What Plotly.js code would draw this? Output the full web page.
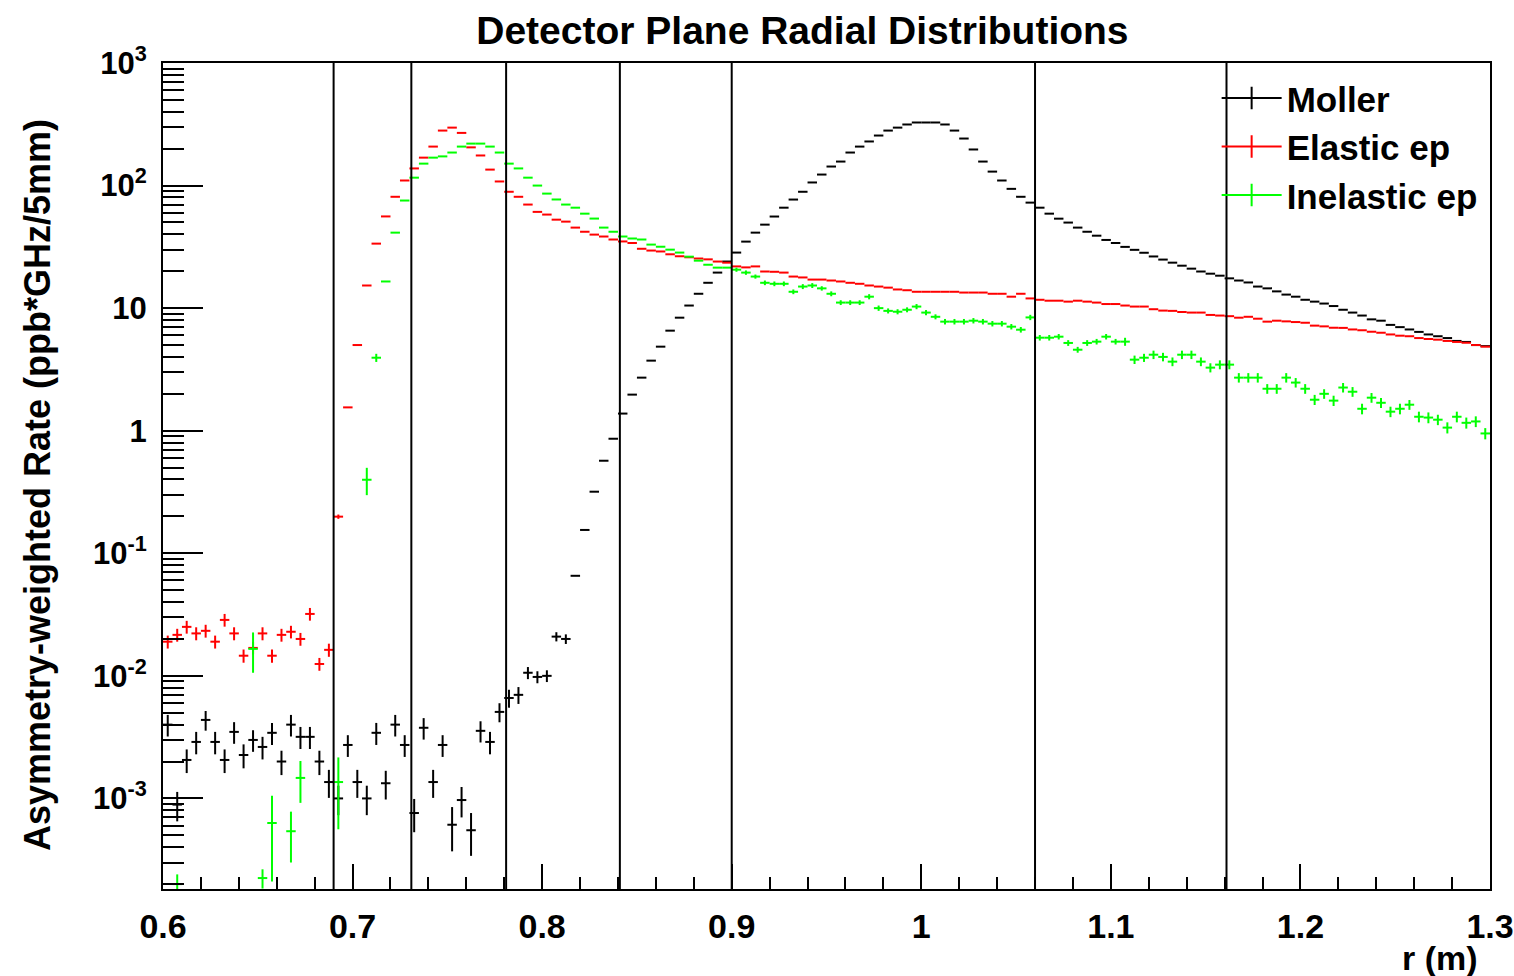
<!DOCTYPE html>
<html>
<head>
<meta charset="utf-8">
<script src="https://cdn.plot.ly/plotly-3.0.1.min.js"></script>
<style>html,body{margin:0;padding:0;background:#fff;}#chart{width:1514px;height:976px;}</style>
</head>
<body>
<div id="chart"></div>
<script>
// ---- data (140 bins of 5 mm between r = 0.6 m and 1.3 m) ----
const rMin = 0.6;
const binWidth = 0.005;
const nBins = 140;

const seriesNames = ['Moller', 'Elastic ep', 'Inelastic ep'];
const seriesColors = ['#000000', '#ff0000', '#00ff00'];

const moller = [
  0.0040, 0.00089, 0.00206, 0.00289, 0.00437, 0.00289, 0.00206, 0.00349, 0.00226, 0.0030,
  0.00263, 0.00343, 0.0020, 0.0040, 0.00318, 0.00318, 0.0020, 0.00136, 0.0010, 0.00273,
  0.00136, 0.0010, 0.00343, 0.00133, 0.0040, 0.00273, 0.00076, 0.00377, 0.00136, 0.00273,
  0.00061, 0.00097, 0.00055, 0.00356, 0.00289, 0.00508, 0.0066, 0.0070, 0.0106, 0.0098,
  0.0100, 0.0209, 0.0200, 0.0655, 0.155, 0.318, 0.569, 0.86, 1.38, 1.97,
  2.71, 3.73, 4.85, 6.55, 8.36, 10.5, 13.1, 16.1, 19.5, 24.0,
  28.4, 34.9, 41.3, 48.0, 55.9, 66.0, 76.9, 89.0, 106, 123,
  143, 157, 186, 208, 229, 256, 281, 297, 315, 327,
  327, 327, 315, 281, 242, 197, 157, 130, 110, 94,
  81, 72.6, 66, 59, 53.7, 49.9, 45.4, 42.0, 39.0, 36.0,
  34.0, 31.6, 29.9, 28.3, 26.4, 24.9, 23.5, 22.2, 21.0, 19.9,
  19.1, 18.4, 17.5, 16.8, 16.2, 15.0, 14.5, 13.7, 12.9, 12.4,
  11.7, 11.3, 10.9, 10.4, 9.7, 9.2, 8.7, 8.1, 7.9, 7.3,
  7.0, 6.7, 6.4, 6.1, 5.9, 5.7, 5.4, 5.3, 5.0, 4.9
];
const mollerErr = [
  0.0008, 0.00024, 0.00045, 0.0006, 0.0008, 0.0006, 0.00045, 0.0007, 0.0005, 0.0006,
  0.00055, 0.0007, 0.00045, 0.0008, 0.00065, 0.00065, 0.00045, 0.00035, 0.00027, 0.00055,
  0.00035, 0.00027, 0.0007, 0.00035, 0.0008, 0.00055, 0.00023, 0.00075, 0.00035, 0.00055,
  0.00024, 0.00027, 0.00021, 0.0007, 0.0006, 0.0009, 0.0011, 0.0011, 0.0012, 0.0011,
  0.0011, 0.0018, 0.0018, 0, 0, 0, 0, 0, 0, 0,
  0, 0, 0, 0, 0, 0, 0, 0, 0, 0,
  0, 0, 0, 0, 0, 0, 0, 0, 0, 0,
  0, 0, 0, 0, 0, 0, 0, 0, 0, 0,
  0, 0, 0, 0, 0, 0, 0, 0, 0, 0,
  0, 0, 0, 0, 0, 0, 0, 0, 0, 0,
  0, 0, 0, 0, 0, 0, 0, 0, 0, 0,
  0, 0, 0, 0, 0, 0, 0, 0, 0, 0,
  0, 0, 0, 0, 0, 0, 0, 0, 0, 0,
  0, 0, 0, 0, 0, 0, 0, 0, 0, 0
];

const elastic = [
  0.019, 0.0216, 0.0251, 0.0222, 0.0233, 0.019, 0.0286, 0.0222, 0.0146, 0.0169,
  0.0222, 0.0146, 0.0216, 0.0229, 0.020, 0.032, 0.0125, 0.0163, 0.199, 1.55,
  5.0, 15.3, 33.6, 56, 81, 110, 138, 169, 208, 281,
  297, 269, 205, 176, 135, 108, 89, 81, 70, 61,
  58, 52.7, 50.8, 45.4, 42, 39.8, 38.4, 36.3, 35, 34,
  30.5, 29.5, 29, 27.5, 26.5, 26, 25.4, 25, 24, 23.5,
  21.9, 21.5, 21.9, 19.9, 19.8, 19.5, 18.1, 17.8, 17.1, 17.1,
  16.8, 16.5, 16.1, 15.8, 15.3, 15.0, 14.7, 14.2, 14.0, 13.6,
  13.6, 13.6, 13.6, 13.6, 13.4, 13.4, 13.4, 13.1, 13.1, 12.4,
  13.1, 12.0, 11.7, 11.5, 11.5, 11.3, 11.5, 11.3, 11.1, 10.8,
  10.8, 10.5, 10.3, 10.3, 9.8, 9.55, 9.5, 9.3, 9.2, 9.2,
  8.8, 8.7, 8.6, 8.36, 8.5, 8.2, 7.76, 7.9, 7.8, 7.7,
  7.6, 7.2, 7.1, 6.92, 6.9, 6.7, 6.6, 6.42, 6.3, 6.1,
  5.96, 5.9, 5.7, 5.6, 5.53, 5.4, 5.3, 5.22, 5.0, 4.85
];
const elasticErr = [
  0.0023, 0.0026, 0.003, 0.0027, 0.0028, 0.0023, 0.0034, 0.0027, 0.0018, 0.002,
  0.0027, 0.0018, 0.0026, 0.0027, 0.0024, 0.0038, 0.0015, 0.002, 0.008, 0,
  0, 0, 0, 0, 0, 0, 0, 0, 0, 0,
  0, 0, 0, 0, 0, 0, 0, 0, 0, 0,
  0, 0, 0, 0, 0, 0, 0, 0, 0, 0,
  0, 0, 0, 0, 0, 0, 0, 0, 0, 0,
  0, 0, 0, 0, 0, 0, 0, 0, 0, 0,
  0, 0, 0, 0, 0, 0, 0, 0, 0, 0,
  0, 0, 0, 0, 0, 0, 0, 0, 0, 0,
  0, 0, 0, 0, 0, 0, 0, 0, 0, 0,
  0, 0, 0, 0, 0, 0, 0, 0, 0, 0,
  0, 0, 0, 0, 0, 0, 0, 0, 0, 0,
  0, 0, 0, 0, 0, 0, 0, 0, 0, 0,
  0, 0, 0, 0, 0, 0, 0, 0, 0, 0
];

const inelastic = [
  null, 0.0002, null, null, null, null, null, null, null, 0.0166,
  0.000224, 0.00063, null, 0.00054, 0.00147, null, null, null, 0.00136, null,
  null, 0.398, 3.94, 16.5, 41.3, 75.5, 116, 151, 169, 173,
  186, 208, 220, 220, 208, 186, 151, 138, 116, 100,
  86, 77, 70, 66, 59, 53.8, 45.4, 42, 38.4, 37,
  36.3, 33, 31.7, 30, 28.4, 26.3, 24.4, 22.6, 21.4, 21.4,
  20.6, 19.5, 18.1, 16.1, 15.8, 15.8, 13.6, 15.0, 15.3, 14.5,
  13.1, 11.1, 11.1, 11.1, 12.4, 10.0, 9.5, 9.35, 9.7, 10.3,
  9.2, 8.5, 7.76, 7.76, 7.76, 7.9, 7.76, 7.47, 7.47, 7.06,
  6.67, 8.4, 5.74, 5.74, 5.85, 5.2, 4.58, 5.2, 5.33, 5.85,
  5.33, 5.33, 3.8, 3.94, 4.17, 4.0, 3.66, 4.17, 4.17, 3.66,
  3.27, 3.46, 3.46, 2.71, 2.71, 2.71, 2.2, 2.2, 2.71, 2.47,
  2.2, 1.79, 2.0, 1.76, 2.25, 2.08, 1.51, 1.86, 1.69, 1.43,
  1.51, 1.63, 1.3, 1.28, 1.23, 1.06, 1.3, 1.16, 1.19, 0.95
];
const inelasticErr = [
  0, 0.00004, 0, 0, 0, 0, 0, 0, 0, 0.006,
  0.00004, 0.00042, 0, 0.00024, 0.00055, 0, 0, 0, 0.0008, 0,
  0, 0.1, 0.3, 0, 0, 0, 0, 0, 0, 0,
  0, 0, 0, 0, 0, 0, 0, 0, 0, 0,
  0, 0, 0, 0, 0, 0, 0, 0, 0, 0,
  0, 0, 0, 0, 0, 0, 0, 0, 0, 0,
  0.8, 0.8, 0.7, 0.7, 0.7, 0.7, 0.6, 0.7, 0.7, 0.6,
  0.6, 0.5, 0.5, 0.5, 0.6, 0.5, 0.45, 0.45, 0.45, 0.5,
  0.45, 0.4, 0.4, 0.4, 0.4, 0.4, 0.4, 0.38, 0.38, 0.36,
  0.35, 0.42, 0.3, 0.3, 0.3, 0.28, 0.25, 0.28, 0.28, 0.3,
  0.28, 0.4, 0.3, 0.3, 0.33, 0.32, 0.3, 0.33, 0.33, 0.3,
  0.28, 0.29, 0.29, 0.24, 0.24, 0.24, 0.2, 0.2, 0.24, 0.22,
  0.2, 0.17, 0.18, 0.17, 0.2, 0.19, 0.15, 0.17, 0.16, 0.14,
  0.15, 0.15, 0.13, 0.13, 0.12, 0.11, 0.13, 0.12, 0.12, 0.1
];

// detector ring boundaries (m)
const detectorEdges = [0.69, 0.731, 0.781, 0.841, 0.90, 1.06, 1.161];

// tick labels
const xTickVals = [0.6, 0.7, 0.8, 0.9, 1.0, 1.1, 1.2, 1.3];
const xTickText = ['0.6', '0.7', '0.8', '0.9', '1', '1.1', '1.2', '1.3'];
const yTickVals = [1e-3, 1e-2, 1e-1, 1, 10, 100, 1000];
const yTickText = ['10<sup>-3</sup>', '10<sup>-2</sup>', '10<sup>-1</sup>', '1', '10', '10<sup>2</sup>', '10<sup>3</sup>'];

const titleText = 'Detector Plane Radial Distributions';
const xTitleText = 'r (m)';
const yTitleText = 'Asymmetry-weighted Rate (ppb*GHz/5mm)';

// ---- build ----
const binCenters = [];
for (let i = 0; i < nBins; i++) binCenters.push(+(rMin + binWidth * (i + 0.5)).toFixed(5));

const xMinor = [];
for (let k = 31; k <= 64; k++) { if (k % 5 !== 0) xMinor.push(+(k * 0.02).toFixed(2)); }
const yMinor = [];
for (let p = -4; p <= 2; p++) for (let m = 2; m <= 9; m++) yMinor.push(m * Math.pow(10, p));

const values = [moller, elastic, inelastic];
const errors = [mollerErr, elasticErr, inelasticErr];

const traces = [];
values.forEach((v, s) => {
  traces.push({
    type: 'scatter', mode: 'markers', name: seriesNames[s], showlegend: false,
    x: binCenters, y: v,
    marker: {size: 1, opacity: 0, color: seriesColors[s]},
    error_x: {type: 'constant', value: binWidth / 2, width: 0, thickness: 2, color: seriesColors[s]},
    error_y: {type: 'data', array: errors[s], width: 0, thickness: 2, color: seriesColors[s]},
    hoverinfo: 'x+y+name'
  });
});
// legend entries (cross symbol = ROOT error-bar style)
seriesNames.forEach((n, s) => {
  traces.push({
    type: 'scatter', mode: 'lines+markers', name: n, x: [null], y: [null],
    legendgroup: 'g' + s,
    line: {color: seriesColors[s], width: 2},
    marker: {symbol: 'line-ns-open', size: 16, color: seriesColors[s], line: {color: seriesColors[s], width: 2}}
  });
});

const shapes = detectorEdges.map(r => ({
  type: 'line', xref: 'x', yref: 'paper', x0: r, x1: r, y0: 0, y1: 1,
  line: {color: '#000', width: 2}, layer: 'above'
}));

const fontFam = '"Liberation Sans", Arial, Helvetica, sans-serif';

const layout = {
  width: 1514, height: 976,
  margin: {l: 163, r: 24, t: 63, b: 87, pad: 0},
  paper_bgcolor: '#ffffff', plot_bgcolor: '#ffffff',
  font: {family: fontFam, color: '#000', weight: 'bold'},
  title: {text: titleText, font: {family: fontFam, size: 39, color: '#000', weight: 'bold'},
          xref: 'container', x: 0.53, xanchor: 'center', yref: 'container', y: 0.969, yanchor: 'middle'},
  xaxis: {
    range: [0.6, 1.3], tickmode: 'array', tickvals: xTickVals, ticktext: xTickText,
    ticks: 'inside', ticklen: 25, tickwidth: 2, tickcolor: '#000',
    showline: true, linewidth: 2, linecolor: '#000', mirror: true,
    showgrid: false, zeroline: false, ticklabelstandoff: 6,
    tickfont: {family: fontFam, size: 34, color: '#000', weight: 'bold'},
    minor: {tickmode: 'array', tickvals: xMinor, ticks: 'inside', ticklen: 12, tickwidth: 2, tickcolor: '#000', showgrid: false}
  },
  yaxis: {
    type: 'log', range: [-3.739, 3], tickmode: 'array', tickvals: yTickVals, ticktext: yTickText,
    ticks: 'inside', ticklen: 40, tickwidth: 2, tickcolor: '#000',
    showline: true, linewidth: 2, linecolor: '#000', mirror: true,
    showgrid: false, zeroline: false, ticklabelstandoff: 8,
    tickfont: {family: fontFam, size: 31, color: '#000', weight: 'bold'},
    minor: {tickmode: 'array', tickvals: yMinor, ticks: 'inside', ticklen: 21, tickwidth: 2, tickcolor: '#000', showgrid: false}
  },
  legend: {
    x: 0.794, y: 0.993, xanchor: 'left', yanchor: 'top',
    bgcolor: 'rgba(255,255,255,0)', borderwidth: 0,
    font: {family: fontFam, size: 35, color: '#000', weight: 'bold'},
    itemwidth: 60, traceorder: 'grouped', tracegroupgap: 0
  },
  shapes: shapes,
  annotations: [
    {text: xTitleText, xref: 'paper', yref: 'paper', x: 0.9925, y: -0.0836, xanchor: 'right', yanchor: 'middle',
     showarrow: false, font: {family: fontFam, size: 34, color: '#000', weight: 'bold'}},
    {text: yTitleText, xref: 'paper', yref: 'paper', x: -0.095, y: 0.489, xanchor: 'center', yanchor: 'middle',
     textangle: -90, showarrow: false, font: {family: fontFam, size: 36, color: '#000', weight: 'bold'}}
  ]
};

Plotly.newPlot('chart', traces, layout, {displayModeBar: false, staticPlot: true});
</script>
</body>
</html>
